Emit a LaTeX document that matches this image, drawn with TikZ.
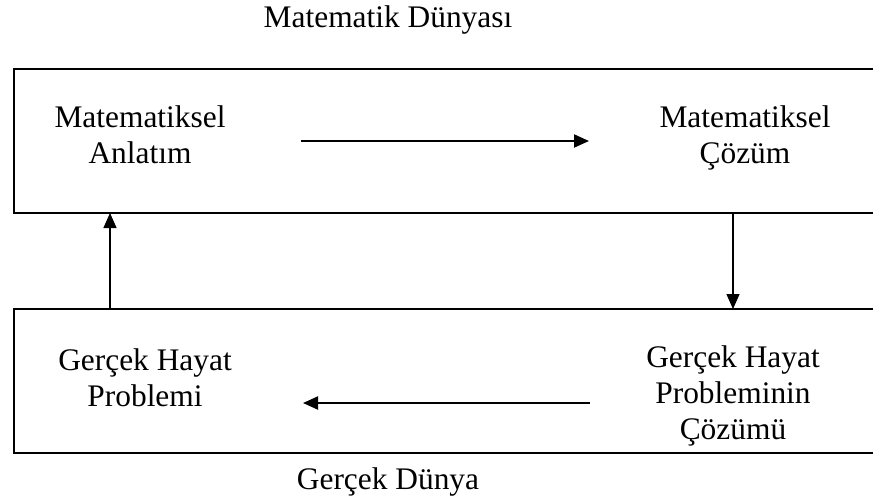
\documentclass[tikz,border=0pt]{standalone}
\usepackage{fontspec}
\setmainfont{Liberation Serif}
\usetikzlibrary{arrows.meta}

\begin{document}
\begin{tikzpicture}[
  x=1pt, y=-1pt,
  >={Triangle[length=15pt, width=13pt]},
  world/.style = {draw, rectangle, line width=2pt, outer sep=0pt, minimum width=900pt, minimum height=144pt},
  lbl/.style   = {align=center, inner sep=0pt, font=\fontsize{31.4}{36}\selectfont},
  flow/.style  = {->, line width=2pt},
  link/.style  = {->, line width=1.3pt},
]
  \useasboundingbox (0,0) rectangle (873,499);
  \clip (0,0) rectangle (873,499);

  \node[world, anchor=north west] (mworld) at (14,69)  {};
  \node[world, anchor=north west] (rworld) at (14,309) {};

  \node[lbl, anchor=base] (mtitle) at (388,27)  {Matematik Dünyası};
  \node[lbl, anchor=base] (rtitle) at (388,489) {Gerçek Dünya};

  % base = last line
  \node[lbl, anchor=base] (anl)   at (140,163) {Matematiksel\\Anlatım};
  \node[lbl, anchor=base] (msol)  at (745,163) {Matematiksel\\Çözüm};
  \node[lbl, anchor=base] (prob)  at (145,406) {Gerçek Hayat\\Problemi};
  \node[lbl, anchor=base] (rsol)  at (733,439) {Gerçek Hayat\\Probleminin\\Çözümü};

  \coordinate (ma) at (301,141);
  \coordinate (mb) at (589,141);
  \coordinate (ra) at (590,403);
  \coordinate (rb) at (303,403);
  \coordinate (upx) at (110,0);
  \coordinate (dnx) at (733,0);

  \draw[flow] (ma) -- (mb);
  \draw[flow] (ra) -- (rb);
  \draw[link] (rworld.north -| upx) -- (mworld.south -| upx);
  \draw[link] (mworld.south -| dnx) -- (rworld.north -| dnx);
\end{tikzpicture}
\end{document}
